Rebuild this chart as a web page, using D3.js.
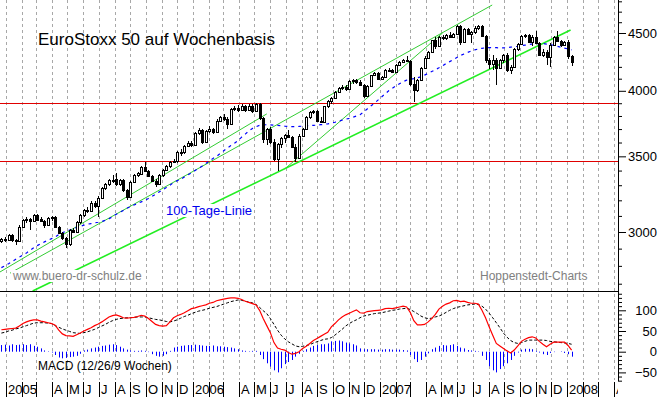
<!DOCTYPE html>
<html>
<head>
<meta charset="utf-8">
<script src="https://cdn.jsdelivr.net/npm/d3@7"></script>
<style>
  body { margin: 0; background: #fff; }
  svg { display: block; font-family: "Liberation Sans", Arial, sans-serif; }
</style>
</head>
<body>
<div id="chart"></div>
<script>
// ---- data (weekly candles, first week starts Mon 2004-12-20) ----
const firstWeek = "2004-12-20";

const opens = [2945,2955,2951,2982,2952,2945,3032,3074,3080,3068,3106,3080,3068,3045,3085,3095,3030,2995,2962,2925,
  3010,3002,3060,3105,3137,3128,3185,3165,3215,3280,3308,3335,3340,3305,3338,3265,3225,3325,3370,3378,
  3428,3395,3362,3327,3310,3368,3404,3430,3463,3470,3533,3528,3575,3600,3580,3670,3690,3605,3688,3700,
  3675,3765,3790,3780,3740,3855,3862,3848,3882,3845,3882,3840,3890,3785,3625,3700,3605,3480,3590,3630,
  3655,3640,3570,3485,3650,3700,3790,3830,3838,3765,3752,3875,3915,3945,3990,4025,4035,4015,4080,4085,
  4075,4050,3955,4040,4130,4150,4100,4115,4175,4170,4160,4215,4245,4262,4250,4060,4005,4090,4190,4280,
  4325,4432,4380,4460,4450,4482,4468,4490,4560,4420,4535,4495,4505,4548,4565,4470,4255,4228,4262,4190,
  4255,4300,4175,4195,4355,4400,4470,4480,4420,4465,4410,4300,4330,4285,4395,4465,4430,4395,4420,4290];
const highs = [2962,2968,2990,2988,2960,3040,3082,3090,3088,3115,3114,3095,3072,3090,3102,3100,3036,3002,2972,3018,
  3025,3065,3112,3145,3155,3195,3198,3228,3290,3315,3345,3372,3380,3345,3345,3275,3330,3378,3392,3435,
  3462,3405,3370,3345,3375,3410,3440,3470,3480,3540,3550,3585,3610,3612,3680,3705,3700,3695,3720,3710,
  3775,3800,3815,3790,3860,3880,3885,3892,3888,3890,3895,3898,3898,3790,3710,3715,3625,3600,3640,3665,
  3690,3650,3590,3660,3710,3800,3840,3850,3850,3790,3880,3922,3950,3995,4032,4045,4045,4085,4095,4100,
  4090,4060,4045,4135,4160,4155,4125,4185,4190,4180,4222,4250,4268,4290,4262,4110,4100,4200,4290,4335,
  4440,4460,4470,4485,4490,4510,4500,4570,4575,4545,4545,4520,4560,4575,4572,4480,4275,4300,4275,4270,
  4310,4320,4220,4365,4410,4480,4495,4492,4478,4520,4420,4360,4345,4405,4475,4520,4440,4430,4440,4300];
const lows = [2935,2940,2945,2940,2920,2940,3025,3055,3015,3060,3068,3062,3022,3040,3070,3022,2985,2950,2905,2918,
  2992,2998,3052,3095,3118,3122,3150,3092,3208,3265,3295,3318,3298,3298,3255,3200,3218,3312,3358,3368,
  3388,3355,3320,3290,3300,3355,3395,3420,3450,3455,3505,3515,3565,3570,3575,3655,3590,3595,3670,3660,
  3670,3755,3765,3700,3735,3840,3830,3845,3830,3835,3820,3835,3770,3600,3580,3590,3470,3398,3560,3600,
  3630,3560,3460,3480,3640,3690,3780,3815,3755,3745,3748,3860,3890,3940,3985,4005,4000,4005,4060,4060,
  4040,3945,3950,4035,4120,4090,4085,4105,4160,4145,4155,4205,4235,4240,4040,3910,3990,4080,4180,4270,
  4320,4360,4370,4440,4440,4460,4455,4480,4390,4405,4480,4405,4495,4530,4460,4230,4185,4170,4045,4180,
  4230,4160,4140,4190,4340,4395,4455,4405,4380,4400,4290,4285,4220,4200,4390,4415,4375,4385,4270,4210];
const closes = [2955,2951,2982,2952,2945,3032,3074,3080,3070,3106,3075,3068,3045,3085,3095,3030,2995,2962,2925,3010,
  3002,3060,3105,3137,3128,3185,3165,3215,3280,3308,3335,3330,3305,3338,3265,3225,3325,3370,3380,3428,
  3395,3362,3327,3310,3368,3404,3430,3463,3470,3533,3528,3575,3600,3580,3670,3690,3605,3688,3700,3675,
  3765,3790,3780,3740,3855,3862,3848,3882,3845,3882,3840,3890,3785,3625,3700,3605,3480,3590,3630,3655,
  3640,3570,3485,3650,3700,3790,3830,3838,3765,3752,3875,3915,3945,3990,4025,4035,4015,4080,4085,4075,
  4050,3955,4040,4130,4150,4100,4115,4175,4170,4160,4215,4245,4262,4250,4055,4005,4090,4190,4280,4325,
  4432,4380,4460,4450,4482,4468,4490,4560,4420,4535,4495,4505,4548,4565,4470,4255,4228,4262,4190,4255,
  4300,4175,4195,4355,4400,4470,4480,4420,4465,4410,4300,4330,4285,4395,4465,4430,4395,4420,4290,4240];

// 100-Tage-Linie (weekly readings)
const ma100 = [2790,2800,2812,2825,2838,2850,2862,2875,2890,2905,2918,2930,2940,2950,2960,2970,2985,2995,3005,3012,
  3020,3028,3035,3042,3048,3052,3056,3060,3065,3072,3082,3095,3110,3122,3135,3148,3160,3170,3180,3190,
  3200,3212,3225,3240,3255,3270,3285,3300,3318,3330,3340,3355,3370,3385,3400,3415,3432,3450,3468,3485,
  3500,3520,3540,3560,3578,3595,3615,3640,3662,3685,3705,3718,3728,3732,3733,3732,3730,3728,3725,3722,
  3720,3718,3718,3720,3722,3724,3726,3728,3730,3733,3736,3740,3745,3752,3760,3768,3775,3782,3790,3800,
  3810,3830,3855,3878,3900,3925,3950,3975,4000,4020,4040,4058,4075,4088,4095,4100,4108,4115,4130,4145,
  4160,4175,4192,4210,4228,4245,4262,4280,4298,4312,4325,4338,4348,4356,4362,4366,4368,4368,4367,4366,
  4366,4368,4372,4376,4380,4385,4390,4395,4400,4402,4404,4404,4400,4395,4388,4380,4372,4364,4356,4348];

// MACD (12/26/9)
const macdLine = [53,54,55,56,57,62,68,72,75,77,77,74,72,70,68,64,52,43,39,38,
  37,41,45,50,54,58,63,67,72,78,84,87,89,86,82,81,82,83,85,88,
  86,80,73,66,63,62,63,72,82,87,90,94,99,104,106,109,111,113,117,119,
  123,125,127,129,130,130,129,126,122,119,116,113,100,80,63,46,22,9,6,4,
  -2,-6,-4,0,8,13,20,27,32,37,42,47,60,68,77,84,89,93,97,101,
  94,93,97,98,99,100,101,104,105,104,106,108,110,108,95,75,65,65,66,72,
  80,90,103,110,115,118,123,124,121,122,119,117,117,115,100,82,60,40,20,14,
  8,2,-3,4,14,25,30,34,36,33,25,18,12,18,23,23,23,23,15,4];
const signalLine = [45,47,50,52,55,57,60,63,66,69,70,70,70,69,68,63,59,55,52,49,
  46,45,44,46,48,51,54,58,62,66,71,75,78,80,81,82,82,83,84,84,
  84,82,80,78,77,75,73,72,74,77,81,85,88,92,95,98,100,102,105,107,
  109,112,115,118,121,123,125,124,122,120,118,114,107,99,92,80,66,52,40,31,
  24,19,14,12,13,15,17,21,24,27,30,31,34,40,47,54,62,68,73,77,
  82,86,88,90,92,93,94,96,98,100,101,103,104,105,102,97,92,86,82,80,
  81,84,86,90,95,100,104,107,109,111,113,114,115,114,110,103,93,82,70,58,
  45,35,27,22,20,22,25,28,28,28,28,28,27,25,24,23,22,21,20,18];
const macdHist = [16,17,15,18,16,17,18,16,18,14,12,8,3,1,-2,-8,-14,-16,-15,-13,
  -12,-10,-5,3,5,8,10,12,14,15,17,18,16,12,8,5,3,2,2,3,
  2,-1,-6,-10,-12,-10,-6,2,10,12,14,15,16,16,17,16,15,14,14,15,
  13,13,12,11,10,8,6,3,2,1,2,2,-8,-18,-28,-36,-45,-50,-40,-30,
  -25,-20,-12,-5,2,6,10,14,16,18,18,20,25,26,27,25,22,20,18,15,
  8,6,6,6,6,5,5,6,6,5,5,5,4,3,-8,-18,-25,-20,-12,-4,
  6,10,14,16,15,16,18,14,10,8,4,3,2,1,-10,-20,-35,-45,-50,-42,
  -35,-28,-20,-10,-2,5,7,7,6,2,-2,-6,-8,-3,-1,0,1,-3,-6,-12];

// trend lines: [start date, start value, end date, end value]
const trendThick = [["2005-02-22", 2660, "2008-01-08", 4528]];
const trendThin = [
  ["2004-12-20", 2765, "2006-05-25", 3816],
  ["2005-01-09", 2759, "2007-08-08", 4764],
  ["2006-06-29", 3411, "2007-05-03", 4500]
];
const supportLevels = [3465, 3900];

const priceTicks = [3000, 3500, 4000, 4500];
const macdTicks = [-50, 0, 50, 100];
const monthLetters = ["J", "F", "M", "A", "M", "J", "J", "A", "S", "O", "N", "D"];

// ---- layout ----
const W = 660, H = 397;
const plotR = 618;
const mainB = 291, macdB = 381;

const parse = d3.timeParse("%Y-%m-%d");
const week0 = parse(firstWeek);
const weekDates = closes.map((d, i) => d3.timeDay.offset(week0, 7 * i + 3));

const x = d3.scaleTime()
  .domain([new Date(2005, 0, 1), new Date(2008, 0, 1)])
  .range([6, 567]);
const y = d3.scaleLog().domain([3000, 4500]).range([232, 33]);
const yM = d3.scaleLinear().domain([-50, 100]).range([372.4, 310.3]);

const svg = d3.select("#chart").append("svg")
  .attr("width", W).attr("height", H);

const defs = svg.append("defs");
defs.append("clipPath").attr("id", "clipMain")
  .append("rect").attr("x", 0).attr("y", 0).attr("width", plotR).attr("height", mainB);
defs.append("clipPath").attr("id", "clipMacd")
  .append("rect").attr("x", 0).attr("y", mainB).attr("width", plotR).attr("height", macdB - mainB);
defs.append("clipPath").attr("id", "clipDates")
  .append("rect").attr("x", 0).attr("y", macdB).attr("width", plotR).attr("height", H - macdB);

const px = v => Math.round(v) + 0.5;

// monthly grid
const months = d3.timeMonth.range(new Date(2004, 11, 1), new Date(2008, 5, 1))
  .filter(d => x(d) >= 0 && x(d) <= plotR);

svg.append("g")
  .selectAll("line").data(months).enter().append("line")
  .attr("x1", d => px(x(d))).attr("x2", d => px(x(d)))
  .attr("y1", 0).attr("y2", macdB - 1)
  .attr("stroke", "#a8a8a8").attr("stroke-dasharray", "3,3");

// main panel
const main = svg.append("g").attr("clip-path", "url(#clipMain)");

main.selectAll(".support").data(supportLevels).enter().append("line")
  .attr("x1", 0).attr("x2", plotR)
  .attr("y1", d => px(y(d))).attr("y2", d => px(y(d)))
  .attr("stroke", "#e00000");

const seg = d3.line().x(d => x(parse(d[0]))).y(d => y(d[1]));
main.selectAll(".tthin").data(trendThin).enter().append("path")
  .attr("d", d => seg([[d[0], d[1]], [d[2], d[3]]]))
  .attr("stroke", "#33cc33").attr("stroke-width", 1).attr("fill", "none");
main.selectAll(".tthick").data(trendThick).enter().append("path")
  .attr("d", d => seg([[d[0], d[1]], [d[2], d[3]]]))
  .attr("stroke", "#22ee22").attr("stroke-width", 1.6).attr("fill", "none");

main.append("path")
  .attr("d", d3.line().x((d, i) => x(weekDates[i])).y(d => y(d))(ma100))
  .attr("stroke", "#0000ff").attr("stroke-width", 1.2)
  .attr("stroke-dasharray", "3,4").attr("fill", "none");

const candles = main.append("g").selectAll("g").data(closes).enter().append("g");
candles.append("line")
  .attr("x1", (d, i) => px(x(weekDates[i]))).attr("x2", (d, i) => px(x(weekDates[i])))
  .attr("y1", (d, i) => Math.round(y(highs[i]))).attr("y2", (d, i) => Math.round(y(lows[i])))
  .attr("stroke", "#000");
candles.append("rect")
  .attr("x", (d, i) => Math.round(x(weekDates[i])) - 0.5)
  .attr("y", (d, i) => Math.round(y(Math.max(opens[i], d))) + 0.5)
  .attr("width", 2)
  .attr("height", (d, i) => Math.max(1, Math.round(y(Math.min(opens[i], d))) - Math.round(y(Math.max(opens[i], d)))))
  .attr("fill", (d, i) => d >= opens[i] ? "#fff" : "#000")
  .attr("stroke", "#000");

// panel texts, drawn on a white box like the original
function label(xp, yp, size, color, str) {
  const t = svg.append("text").attr("x", xp).attr("y", yp)
    .style("font-size", size + "px").attr("fill", color).text(str);
  const b = t.node().getBBox();
  svg.insert("rect", () => t.node())
    .attr("x", b.x - 1).attr("y", b.y + 1).attr("width", b.width + 2).attr("height", b.height - 2)
    .attr("fill", "#fff");
  return t;
}
svg.append("text").attr("x", 38).attr("y", 45)
  .style("font-size", "17px").attr("fill", "#000").text("EuroStoxx 50 auf Wochenbasis");
label(166, 215, 13, "#0000ee", "100-Tage-Linie");
label(13, 280, 12, "#808080", "www.buero-dr-schulz.de");
label(480, 280, 12, "#808080", "Hoppenstedt-Charts");

// macd panel
const macd = svg.append("g").attr("clip-path", "url(#clipMacd)");
macd.selectAll(".hist").data(macdHist).enter().append("line")
  .attr("x1", (d, i) => px(x(weekDates[i]))).attr("x2", (d, i) => px(x(weekDates[i])))
  .attr("y1", yM(0)).attr("y2", d => yM(d))
  .attr("stroke", "#0000ff");
macd.append("path")
  .attr("d", d3.line().x((d, i) => x(weekDates[i])).y(d => yM(d))(signalLine))
  .attr("stroke", "#000").attr("stroke-dasharray", "3,2").attr("fill", "none");
macd.append("path")
  .attr("d", d3.line().x((d, i) => x(weekDates[i])).y(d => yM(d))(macdLine))
  .attr("stroke", "#ff0000").attr("stroke-width", 1.2).attr("fill", "none");
svg.append("text").attr("x", 38).attr("y", 370)
  .style("font-size", "12px").attr("fill", "#000").text("MACD (12/26/9 Wochen)");

// panel divider
svg.append("line").attr("x1", 0).attr("x2", plotR).attr("y1", mainB + 0.5).attr("y2", mainB + 0.5)
  .attr("stroke", "#000");

// right axes
const priceMinor = d3.range(2700, 4900, 100).filter(v => priceTicks.indexOf(v) < 0);
const axR = svg.append("g").attr("transform", `translate(${plotR},0)`);
axR.append("g").call(d3.axisRight(y).tickValues(priceMinor).tickSize(4).tickFormat(""))
  .call(g => g.select(".domain").remove());
axR.append("g").call(d3.axisRight(y).tickValues(priceTicks).tickSize(8).tickFormat(d3.format("d")))
  .call(g => g.select(".domain").remove())
  .call(g => g.selectAll("text").attr("x", 39).attr("text-anchor", "end")
    .style("font-size", "13px").style("font-family", "Liberation Sans, Arial, sans-serif"));

const macdMinor = d3.range(-70, 150, 10).filter(v => macdTicks.indexOf(v) < 0);
axR.append("g").call(d3.axisRight(yM).tickValues(macdMinor).tickSize(4).tickFormat(""))
  .call(g => g.select(".domain").remove());
axR.append("g").call(d3.axisRight(yM).tickValues(macdTicks).tickSize(8).tickFormat(d3.format("d")))
  .call(g => g.select(".domain").remove())
  .call(g => g.selectAll("text").attr("x", 39).attr("text-anchor", "end")
    .style("font-size", "13px").style("font-family", "Liberation Sans, Arial, sans-serif"));
axR.selectAll(".tick line").attr("stroke", "#000");

svg.append("line").attr("x1", plotR + 0.5).attr("x2", plotR + 0.5).attr("y1", 0).attr("y2", macdB)
  .attr("stroke", "#000");

// date strip
const dates = svg.append("g").attr("clip-path", "url(#clipDates)");
dates.selectAll("line").data(months).enter().append("line")
  .attr("x1", d => px(x(d))).attr("x2", d => px(x(d)))
  .attr("y1", macdB + 1).attr("y2", H)
  .attr("stroke", "#000");
dates.selectAll("text").data(months.filter(d => d.getMonth() !== 1 && d.getMonth() !== 2)).enter().append("text")
  .attr("x", d => Math.round(x(d)) + 2).attr("y", H - 3)
  .style("font-size", "13px").attr("fill", "#000")
  .text(d => d.getMonth() === 0 ? d.getFullYear() : monthLetters[d.getMonth()]);
</script>
</body>
</html>
